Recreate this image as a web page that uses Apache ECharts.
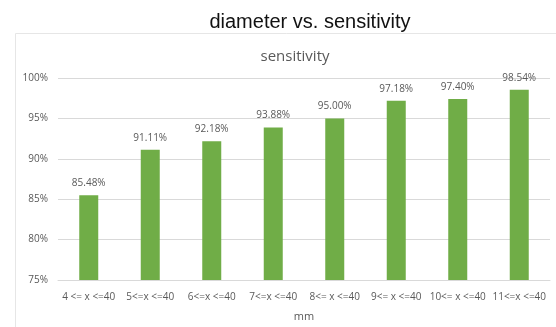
<!DOCTYPE html>
<html>
<head>
<meta charset="utf-8">
<script src="https://cdn.jsdelivr.net/npm/echarts@6/dist/echarts.min.js"></script>
<style>
  html, body { margin: 0; padding: 0; background: #ffffff; }
  #chart { width: 556px; height: 327px; }
</style>
</head>
<body>
<div id="chart"></div>
<script>
// Diameter ranges (mm) and the sensitivity measured for each
const categories = ['4 <= x <=40', '5<=x <=40', '6<=x <=40', '7<=x <=40', '8<= x <=40', '9<= x <=40', '10<= x <=40', '11<=x <=40'];
const sensitivity = [85.48, 91.11, 92.18, 93.88, 95.00, 97.18, 97.40, 98.54];

const chart = echarts.init(document.getElementById('chart'), null, { renderer: 'canvas' });
chart.setOption({
  backgroundColor: '#ffffff',
  animation: false,
  graphic: [{
    type: 'rect',
    shape: { x: 15.5, y: 33.5, width: 560, height: 310 },
    style: { fill: 'none', stroke: '#e6e6e6', lineWidth: 1 },
    silent: true
  }],
  title: [{
    text: 'diameter vs. sensitivity',
    left: 305, top: 7, textAlign: 'center',
    textStyle: { fontFamily: 'Liberation Sans', fontSize: 20, fontWeight: 'normal', color: '#111111' }
  }, {
    text: 'sensitivity',
    left: 290, top: 44, textAlign: 'center',
    textStyle: { fontFamily: 'Open Sans', fontSize: 15, fontWeight: 'normal', color: '#595959' }
  }],
  grid: { left: 58, right: 6, top: 78, bottom: 37 },
  xAxis: {
    type: 'category',
    data: categories,
    name: 'mm',
    nameLocation: 'middle',
    nameGap: 31,
    nameTextStyle: { fontFamily: 'Open Sans', fontSize: 11, color: '#595959' },
    axisLine: { lineStyle: { color: '#d9d9d9' } },
    axisTick: { show: false },
    axisLabel: { fontFamily: 'Open Sans', fontSize: 10, color: '#595959', margin: 12, interval: 0 }
  },
  yAxis: {
    type: 'value',
    min: 75, max: 100, interval: 5,
    axisLine: { show: false },
    axisTick: { show: false },
    splitLine: { lineStyle: { color: '#d9d9d9' } },
    axisLabel: { fontFamily: 'Open Sans', fontSize: 10, color: '#595959', margin: 10, formatter: v => v + '%' }
  },
  series: [{
    type: 'bar',
    data: sensitivity,
    barWidth: 19,
    itemStyle: { color: '#70ad47' },
    label: {
      show: true, position: 'top', distance: 7,
      fontFamily: 'Open Sans', fontSize: 10, color: '#595959',
      formatter: p => p.value.toFixed(2) + '%'
    }
  }]
});
</script>
</body>
</html>
